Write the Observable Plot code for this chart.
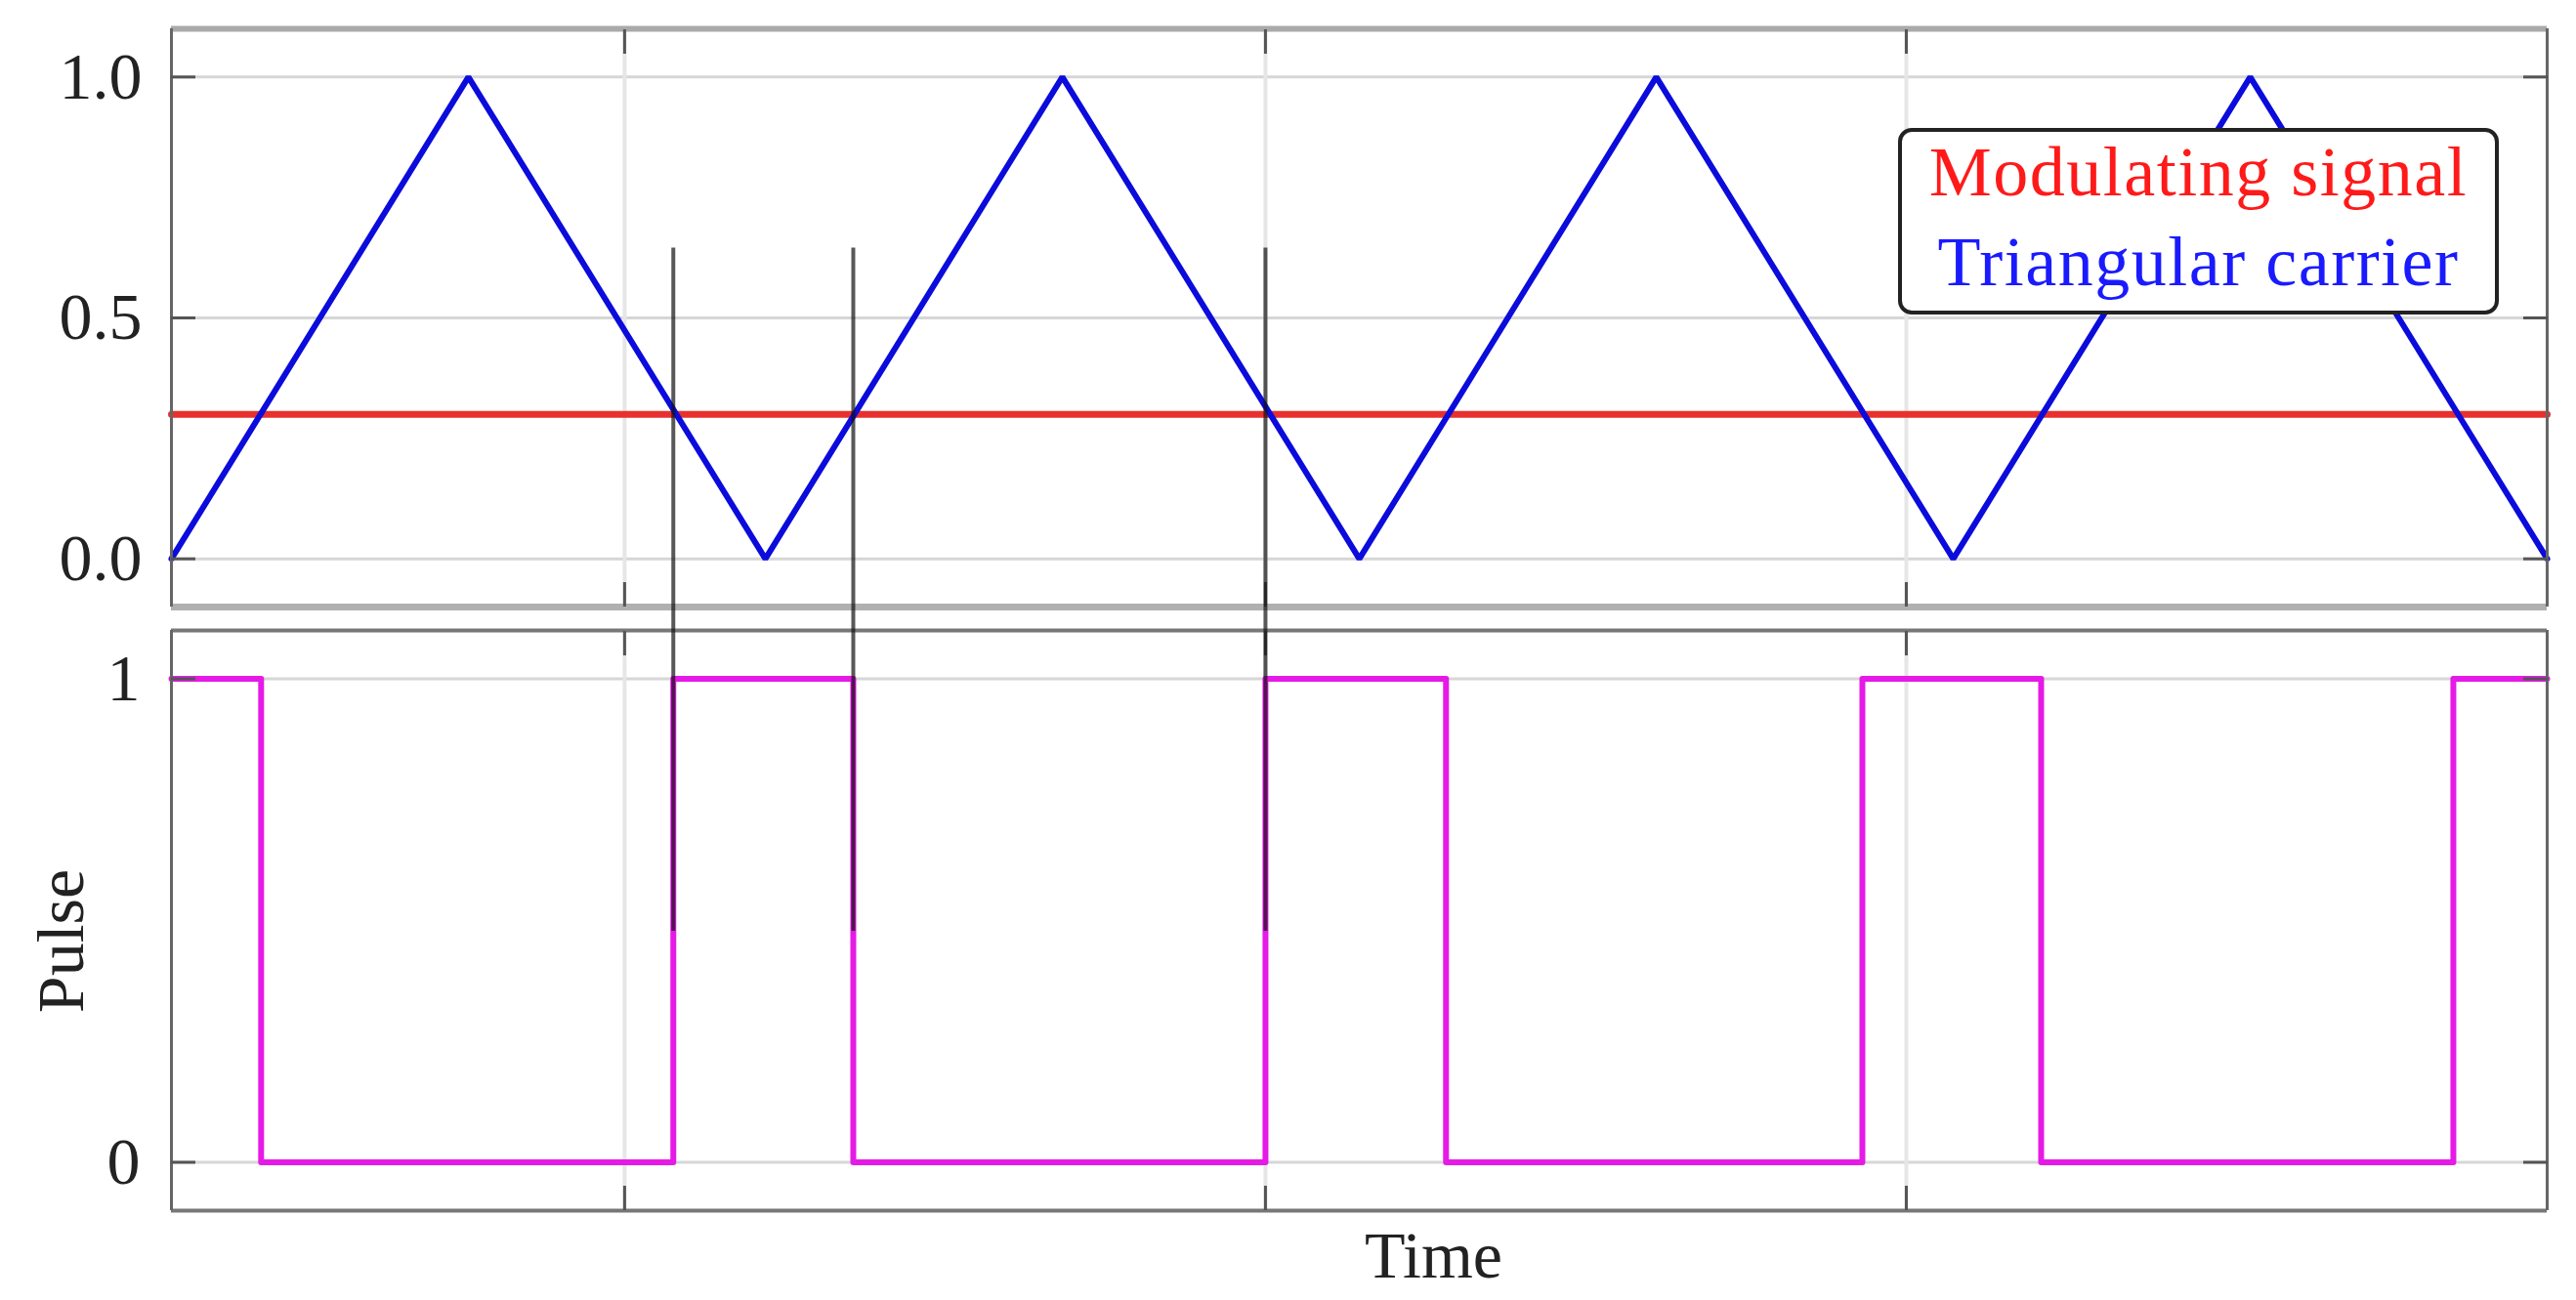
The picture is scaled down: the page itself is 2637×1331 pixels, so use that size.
<!DOCTYPE html>
<html>
<head>
<meta charset="utf-8">
<script src="https://cdn.jsdelivr.net/npm/d3@7"></script>
<script src="https://cdn.jsdelivr.net/npm/@observablehq/plot@0.6"></script>
<style>
  html, body { margin: 0; padding: 0; background: #fff; }
  #wrap { position: relative; width: 2637px; height: 1331px; overflow: hidden; background: #fff; font-family: "Liberation Serif", serif; }
  #wrap svg { position: absolute; left: 0; }
  .legbox { position: absolute; left: 1943px; top: 131px; width: 615px; height: 191px; box-sizing: border-box; border: 4px solid #222; border-radius: 14px; background: #fff; }
  .legline { position: absolute; left: 1943px; width: 615px; text-align: center; font-family: "Liberation Serif", serif; font-size: 72px; letter-spacing: 1.5px; line-height: 92px; white-space: nowrap; }
</style>
</head>
<body>
<div id="wrap"></div>
<script>
// ---- data ----
const carrierT = [0, 0.5, 1, 1.5, 2, 2.5, 3, 3.5, 4];
const carrierV = [0, 1, 0, 1, 0, 1, 0, 1, 0];
const signalT = [0, 4];
const signalV = [0.3, 0.3];
const pulseT = [0, 0.151, 0.845, 1.148, 1.842, 2.146, 2.847, 3.148, 3.842, 4];
const pulseV = [1, 0, 1, 0, 1, 0, 1, 0, 1, 1];
const markerT = [0.845, 1.148, 1.842];
const markerTopValue = 0.645;    // where the markers start in the top panel
const markerBottomValue = 0.478; // where the markers end in the bottom panel
const xTicks = [0.763, 1.842, 2.921];
const yTicksTop = [0, 0.5, 1];
const yTicksBottom = [0, 1];
const xDomain = [0, 4];
const yDomain = [-0.1, 1.1];
const legendLabels = ["Modulating signal", "Triangular carrier"];
const xLabel = "Time";
const yLabelBottom = "Pulse";

(function () {
const carrier = carrierT.map((t, i) => ({t, v: carrierV[i]}));
const signal = signalT.map((t, i) => ({t, v: signalV[i]}));
const pulse = pulseT.map((t, i) => ({t, v: pulseV[i]}));

const FONT = "Liberation Serif, serif";
const W = 2637;
const blue = "#0b0bdc", red = "#e8312f", magenta = "#e61ae6";
const tickColor = "#555";

const common = {
  width: W,
  marginLeft: 175,
  marginRight: 30,
  x: {domain: xDomain},
  y: {domain: yDomain},
  style: {fontFamily: FONT, fontSize: "68px", color: "#222", background: "transparent"}
};

const topPlot = Plot.plot({
  ...common,
  height: 633,
  marginTop: 29,
  marginBottom: 12,
  marks: [
    Plot.gridY({ticks: yTicksTop, stroke: "#d6d6d6", strokeOpacity: 1, strokeWidth: 3}),
    Plot.gridX({ticks: xTicks, stroke: "#e6e6e6", strokeOpacity: 1, strokeWidth: 4}),
    Plot.line(signal, {x: "t", y: "v", stroke: red, strokeWidth: 7}),
    Plot.line(carrier, {x: "t", y: "v", stroke: blue, strokeWidth: 6, strokeLinejoin: "miter"}),
    Plot.ruleY([yDomain[1]], {stroke: "#aaa", strokeWidth: 6}),
    Plot.ruleY([yDomain[0]], {stroke: "#b0b0b0", strokeWidth: 7}),
    Plot.ruleX(xDomain, {stroke: "#666", strokeWidth: 3}),
    Plot.axisY({ticks: yTicksTop, anchor: "left", tickSize: -25, tickPadding: 55, tickFormat: d3.format(".1f"), stroke: tickColor, strokeWidth: 3, fontSize: 68, label: null}),
    Plot.axisY({ticks: yTicksTop, anchor: "right", tickSize: -25, tickFormat: () => "", stroke: tickColor, strokeWidth: 3, label: null}),
    Plot.axisX({ticks: xTicks, anchor: "top", tickSize: -25, tickFormat: () => "", stroke: tickColor, strokeWidth: 3, label: null}),
    Plot.axisX({ticks: xTicks, anchor: "bottom", tickSize: -25, tickFormat: () => "", stroke: tickColor, strokeWidth: 3, label: null}),
    Plot.ruleX(markerT, {y1: markerTopValue, y2: -0.13, stroke: "#111", strokeOpacity: 0.7, strokeWidth: 4})
  ]
});
topPlot.style.top = "0px";

const bottomPlot = Plot.plot({
  ...common,
  height: 698,
  marginTop: 12,
  marginBottom: 92,
  marks: [
    Plot.gridY({ticks: yTicksBottom, stroke: "#d6d6d6", strokeOpacity: 1, strokeWidth: 3}),
    Plot.gridX({ticks: xTicks, stroke: "#e6e6e6", strokeOpacity: 1, strokeWidth: 4}),
    Plot.line(pulse, {x: "t", y: "v", curve: "step-after", stroke: magenta, strokeWidth: 6}),
    Plot.ruleY(yDomain, {stroke: "#777", strokeWidth: 4}),
    Plot.ruleX(xDomain, {stroke: "#666", strokeWidth: 3}),
    Plot.axisY({ticks: yTicksBottom, anchor: "left", tickSize: -25, tickPadding: 57, tickFormat: d3.format("d"), stroke: tickColor, strokeWidth: 3, fontSize: 68, label: null}),
    Plot.axisY({ticks: yTicksBottom, anchor: "right", tickSize: -25, tickFormat: () => "", stroke: tickColor, strokeWidth: 3, label: null}),
    Plot.axisX({ticks: xTicks, anchor: "top", tickSize: -25, tickFormat: () => "", stroke: tickColor, strokeWidth: 3, label: null}),
    Plot.axisX({ticks: xTicks, anchor: "bottom", tickSize: -25, tickFormat: () => "", stroke: tickColor, strokeWidth: 3, label: null}),
    Plot.ruleX(markerT, {y1: 1.13, y2: markerBottomValue, stroke: "#111", strokeOpacity: 0.7, strokeWidth: 4}),
    Plot.text([yLabelBottom], {frameAnchor: "left", rotate: -90, dx: -112, dy: 21, fontSize: 68, fill: "#222", textAnchor: "middle", lineAnchor: "middle"}),
    Plot.text([xLabel], {frameAnchor: "bottom", dx: 76, dy: 47, fontSize: 68, fill: "#222", textAnchor: "middle", lineAnchor: "middle"})
  ]
});
bottomPlot.style.top = "633px";

const wrap = document.getElementById("wrap");
wrap.appendChild(topPlot);
wrap.appendChild(bottomPlot);

// legend box (drawn above the chart, occluding the carrier like the reference)
const box = document.createElement("div");
box.className = "legbox";
wrap.appendChild(box);
const legColors = ["#ff1a1a", "#1a1aff"];
const legTops = [130, 222];
legendLabels.forEach((txt, i) => {
  const d = document.createElement("div");
  d.className = "legline";
  d.style.top = legTops[i] + "px";
  d.style.color = legColors[i];
  d.textContent = txt;
  wrap.appendChild(d);
});
})();
</script>
</body>
</html>
